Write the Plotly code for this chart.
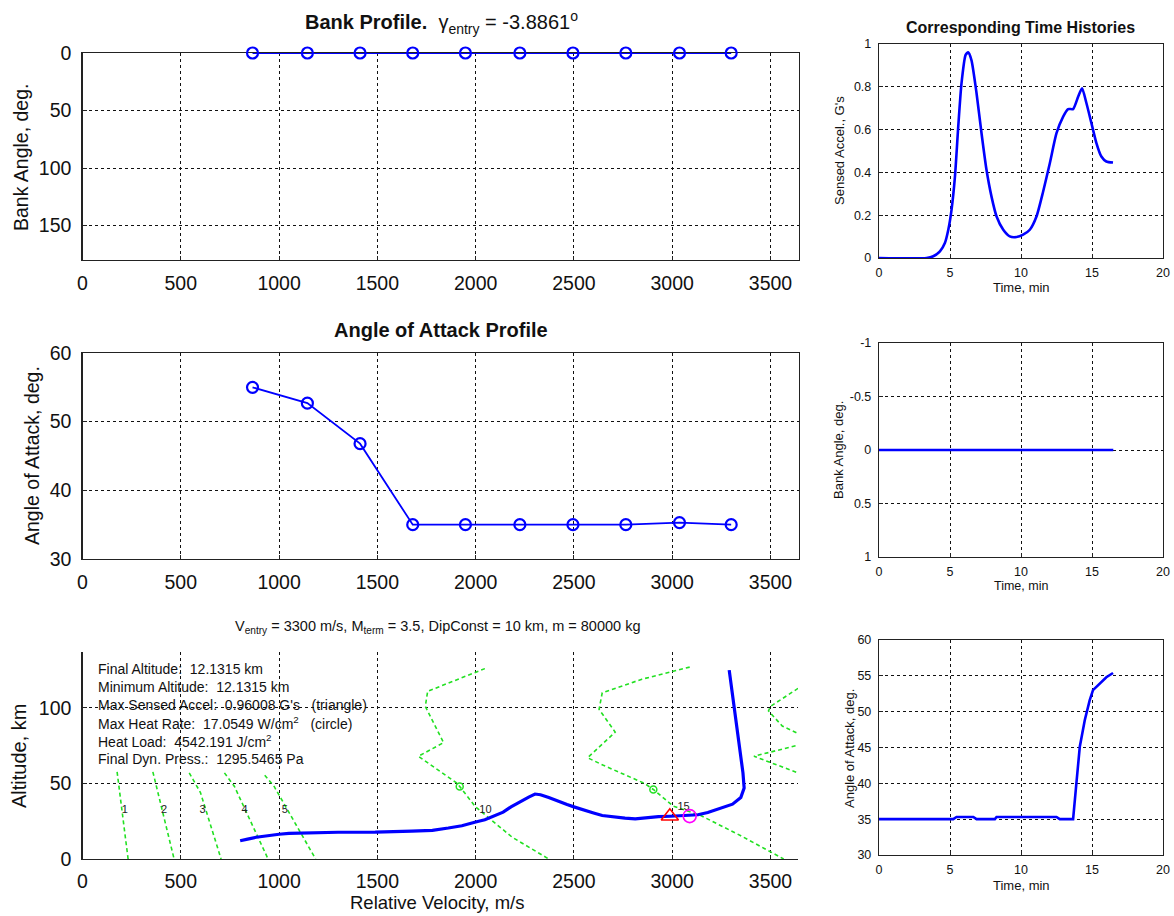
import plotly.graph_objects as go

# ------------------------------------------------------------------ data
node_velocity = [865, 1144, 1412, 1680, 1948, 2225, 2495, 2764, 3037, 3300]
bank_nodes = [0, 0, 0, 0, 0, 0, 0, 0, 0, 0]
aoa_nodes = [55.0, 52.7, 46.8, 35.0, 35.0, 35.0, 35.0, 35.0, 35.3, 35.0]

traj_velocity = [3290, 3315, 3340, 3360, 3366, 3349, 3307, 3248, 3181, 3131, 3064, 2990,
                 2930, 2870, 2812, 2760, 2700, 2644, 2600, 2558, 2500, 2465, 2420, 2372,
                 2330, 2302, 2270, 2233, 2180, 2140, 2090, 2047, 2000, 1930, 1861, 1780,
                 1675, 1580, 1489, 1300, 1116, 1050, 1000, 940, 884, 840, 802]
traj_altitude = [125, 101, 77, 57, 47, 40.7, 36.3, 33.5, 30.8, 29.3, 28.6, 28.3,
                 28.0, 27.3, 26.6, 27.0, 28.0, 28.8, 30.5, 32.0, 34.5, 36.0, 38.5, 40.7,
                 42.5, 43.0, 41.0, 38.5, 34.5, 31.0, 28.0, 26.0, 24.5, 22.0, 20.5, 19.0,
                 18.5, 18.0, 17.8, 17.7, 17.5, 17.0, 16.4, 15.5, 14.4, 13.2, 12.1]

max_accel_v = [2988]
max_accel_h = [28.3]
max_heat_v = [3089]
max_heat_h = [28.4]

t1_v = [176, 232];            t1_h = [57.7, 0]
t2_v = [358, 466];            t2_h = [57.7, 0]
t3_v = [543, 600, 705];       t3_h = [57, 44, 0]
t4_v = [722, 773, 944];       t4_h = [57, 48, 0]
t5_v = [927, 975, 1186];      t5_h = [55.5, 48, 0]
t10_v = [2047, 1756, 1744, 1837, 1709, 1907, 2000, 2186, 2372]
t10_h = [126, 111, 101, 77, 68, 50, 34.4, 14.4, 0]
t15_v = [3089, 2846, 2644, 2628, 2710, 2570, 2650, 2860, 2904, 3005, 3148, 3349, 3567]
t15_h = [127, 119, 110, 99, 84, 67, 62, 50, 46, 35, 28.6, 15.4, 0]
t20_v = [3700, 3500, 3490, 3560, 3720, 3416, 3680]
t20_h = [118, 101, 98, 88, 78, 68, 55]
heat_marks_v = [1919, 2904]
heat_marks_h = [48, 46]

time_labels = ["1", "2", "3", "4", "5", "10", "15"]
time_label_v = [215, 415, 611, 824, 1029, 2050, 3058]
time_label_h = [32, 32, 32, 32, 32, 32, 34]

summary_lines = [
    "Final Altitude:\u00a0\u00a012.1315 km",
    "Minimum Altitude:\u00a0\u00a012.1315 km",
    "Max Sensed Accel:\u00a0\u00a00.96008 G's\u00a0\u00a0\u00a0(triangle)",
    "Max Heat Rate:\u00a0\u00a017.0549 W/cm<sup>2</sup>\u00a0\u00a0\u00a0(circle)",
    "Heat Load:\u00a0\u00a04542.191 J/cm<sup>2</sup>",
    "Final Dyn. Press.:\u00a0\u00a01295.5465 Pa",
]

time_accel = [0, 3.35, 3.82, 4.29, 4.64, 4.88, 5.11, 5.35, 5.58, 5.81, 6.10, 6.28, 6.51,
              6.87, 7.22, 7.57, 7.92, 8.28, 8.75, 9.21, 9.68, 10.15, 10.62, 11.09, 11.56,
              12.03, 12.5, 12.97, 13.32, 13.67, 14.03, 14.3, 14.61, 14.96, 15.31, 15.66,
              16.01, 16.48]
sensed_accel = [0, 0, 0.008, 0.031, 0.07, 0.132, 0.226, 0.381, 0.614, 0.816, 0.949, 0.961,
                0.925, 0.77, 0.583, 0.412, 0.288, 0.194, 0.132, 0.101, 0.098, 0.109, 0.132,
                0.194, 0.311, 0.443, 0.583, 0.661, 0.696, 0.696, 0.755, 0.793, 0.723, 0.63,
                0.537, 0.474, 0.451, 0.446]

time_bank = [0, 16.5]
bank_hist = [0, 0]

time_aoa = [0, 5.23, 5.46, 6.64, 6.87, 8.16, 8.28, 12.5, 12.73, 13.67, 13.9, 14.14,
            14.49, 14.84, 15.07, 15.54, 16.01, 16.48]
aoa_hist = [35, 35, 35.3, 35.3, 35, 35, 35.3, 35.3, 35, 35, 40, 45.1, 48.8, 51.6, 53,
            53.9, 54.8, 55.4]

vel_ticks = [0, 500, 1000, 1500, 2000, 2500, 3000, 3500]
time_ticks = [0, 5, 10, 15, 20]

# ------------------------------------------------------------------ layout helpers
W, H = 1174, 916
FONT = "Liberation Sans, Arial, Helvetica, sans-serif"


def px_x(p):
    return p / W


def px_y(p):
    return 1 - p / H


def axis(rng, ticks, size, anchor, ticktext=None, mirror=True, standoff=6):
    d = dict(
        range=rng, tickmode="array", tickvals=ticks, automargin=False,
        showline=True, linecolor="#222222", linewidth=1.2, mirror=mirror,
        showgrid=True, gridcolor="#111111", gridwidth=1, griddash="3px,3px",
        zeroline=False, ticks="inside", ticklen=4, tickcolor="#222222",
        tickfont=dict(family=FONT, size=size, color="#111111"),
        anchor=anchor, ticklabelstandoff=standoff, layer="below traces",
        fixedrange=True,
    )
    if ticktext is not None:
        d["ticktext"] = ticktext
    return d


def xax(x0, x1, *a, **k):
    d = axis(*a, **k)
    d["domain"] = [px_x(x0), px_x(x1)]
    return d


def yax(y0, y1, *a, **k):
    d = axis(*a, **k)
    d["domain"] = [px_y(y1), px_y(y0)]
    return d


LX0, LX1 = 82.5, 799
RX0, RX1 = 879, 1163

fig = go.Figure()

BLUE = "#0000ff"
GREEN = "#22e022"

fig.add_trace(go.Scatter(x=node_velocity, y=bank_nodes, mode="lines+markers",
                         line=dict(color=BLUE, width=1.8),
                         marker=dict(symbol="circle-open", size=11, color=BLUE,
                                     line=dict(width=2.2, color=BLUE)),
                         cliponaxis=False, xaxis="x", yaxis="y"))
fig.add_trace(go.Scatter(x=node_velocity, y=aoa_nodes, mode="lines+markers",
                         line=dict(color=BLUE, width=1.8),
                         marker=dict(symbol="circle-open", size=11, color=BLUE,
                                     line=dict(width=2.2, color=BLUE)),
                         cliponaxis=False, xaxis="x2", yaxis="y2"))

for vv, hh in [(t1_v, t1_h), (t2_v, t2_h), (t3_v, t3_h), (t4_v, t4_h), (t5_v, t5_h),
               (t10_v, t10_h), (t15_v, t15_h), (t20_v, t20_h)]:
    fig.add_trace(go.Scatter(x=vv, y=hh, mode="lines",
                             line=dict(color=GREEN, width=1.6, dash="4px,3px"),
                             xaxis="x3", yaxis="y3"))
fig.add_trace(go.Scatter(x=heat_marks_v, y=heat_marks_h, mode="markers",
                         marker=dict(symbol="circle-open", size=7, color=GREEN,
                                     line=dict(width=1.5, color=GREEN)),
                         xaxis="x3", yaxis="y3"))
fig.add_trace(go.Scatter(x=time_label_v, y=time_label_h, mode="text", text=time_labels,
                         textfont=dict(family=FONT, size=11, color="#222222"),
                         xaxis="x3", yaxis="y3"))
fig.add_trace(go.Scatter(x=traj_velocity, y=traj_altitude, mode="lines",
                         line=dict(color=BLUE, width=3.2),
                         xaxis="x3", yaxis="y3"))
fig.add_trace(go.Scatter(x=max_accel_v, y=max_accel_h, mode="markers",
                         marker=dict(symbol="triangle-up-open", size=15, color="#ff0000",
                                     line=dict(width=1.6, color="#ff0000")),
                         xaxis="x3", yaxis="y3"))
fig.add_trace(go.Scatter(x=max_heat_v, y=max_heat_h, mode="markers",
                         marker=dict(symbol="circle-open", size=13, color="#ff00ff",
                                     line=dict(width=1.6, color="#ff00ff")),
                         xaxis="x3", yaxis="y3"))

fig.add_trace(go.Scatter(x=time_accel, y=sensed_accel, mode="lines",
                         line=dict(color=BLUE, width=2.6, shape="spline", smoothing=0.6),
                         xaxis="x4", yaxis="y4"))
fig.add_trace(go.Scatter(x=time_bank, y=bank_hist, mode="lines",
                         line=dict(color=BLUE, width=2.6), xaxis="x5", yaxis="y5"))
fig.add_trace(go.Scatter(x=time_aoa, y=aoa_hist, mode="lines",
                         line=dict(color=BLUE, width=2.6), xaxis="x6", yaxis="y6"))

LS = 19.5
RS = 12.5

layout = dict(
    template="none",
    width=W, height=H, showlegend=False,
    margin=dict(l=0, r=0, t=0, b=0, pad=0, autoexpand=False),
    paper_bgcolor="white", plot_bgcolor="white",
    font=dict(family=FONT, color="#111111"),
    xaxis=xax(LX0, LX1, [0, 3645], vel_ticks, LS, "y", standoff=5),
    yaxis=yax(53, 260, [180, 0], [0, 50, 100, 150], LS, "x", standoff=6),
    xaxis2=xax(LX0, LX1, [0, 3645], vel_ticks, LS, "y2", standoff=5),
    yaxis2=yax(353, 559, [30, 60], [30, 40, 50, 60], LS, "x2", standoff=6),
    xaxis3=xax(LX0, 798, [0, 3640], vel_ticks, LS, "y3", mirror=False, standoff=4),
    yaxis3=yax(652, 859, [0, 137], [0, 50, 100], LS, "x3", mirror=False, standoff=6),
    xaxis4=xax(RX0, RX1, [0, 20], time_ticks, RS, "y4", standoff=3),
    yaxis4=yax(44, 258, [0, 1], [0, 0.2, 0.4, 0.6, 0.8, 1], RS, "x4",
               ticktext=["0", "0.2", "0.4", "0.6", "0.8", "1"], standoff=4),
    xaxis5=xax(RX0, RX1, [0, 20], time_ticks, RS, "y5", standoff=3),
    yaxis5=yax(343, 557, [1, -1], [-1, -0.5, 0, 0.5, 1], RS, "x5",
               ticktext=["-1", "-0.5", "0", "0.5", "1"], standoff=4),
    xaxis6=xax(RX0, RX1, [0, 20], time_ticks, RS, "y6", standoff=3),
    yaxis6=yax(640, 855, [30, 60], [30, 35, 40, 45, 50, 55, 60], RS, "x6", standoff=4),
)

ann = []


def text(x, y, s, size, angle=0, xanchor="center"):
    ann.append(dict(xref="paper", yref="paper", x=px_x(x), y=px_y(y), text=s,
                    showarrow=False, textangle=angle, xanchor=xanchor, yanchor="middle",
                    font=dict(family=FONT, size=size, color="#111111")))


text(441, 22, "<b>Bank Profile.</b>\u00a0\u00a0\u03b3<sub>entry</sub> = -3.8861<sup>o</sup>", 20)
text(441, 330, "<b>Angle of Attack Profile</b>", 20)
text(437, 627, "V<sub>entry</sub> = 3300 m/s, M<sub>term</sub> = 3.5, DipConst = 10 km, m = 80000 kg", 14.5)
text(1020, 28, "<b>Corresponding Time Histories</b>", 16)

text(21, 158, "Bank Angle, deg.", 19.5, angle=-90)
text(32, 456, "Angle of Attack, deg.", 19.5, angle=-90)
text(19, 756, "Altitude, km", 20, angle=-90)
text(437, 902, "Relative Velocity, m/s", 18.5)
text(840, 151, "Sensed Accel., G's", 13, angle=-90)
text(838, 450, "Bank Angle, deg.", 13, angle=-90)
text(849, 748, "Angle of Attack, deg.", 13, angle=-90)
text(1021, 287, "Time, min", 13)
text(1021, 586, "Time, min", 12.5)
text(1021, 885, "Time, min", 13)

for i, line in enumerate(summary_lines):
    text(96, 669 + 18 * i, line, 14, xanchor="left")

layout["annotations"] = ann
fig.update_layout(**layout)
fig.write_html("out.html",
               config={"displayModeBar": False, "staticPlot": True},
               post_script="document.body.style.margin='0px';"
                           "document.documentElement.style.overflow='hidden';")
